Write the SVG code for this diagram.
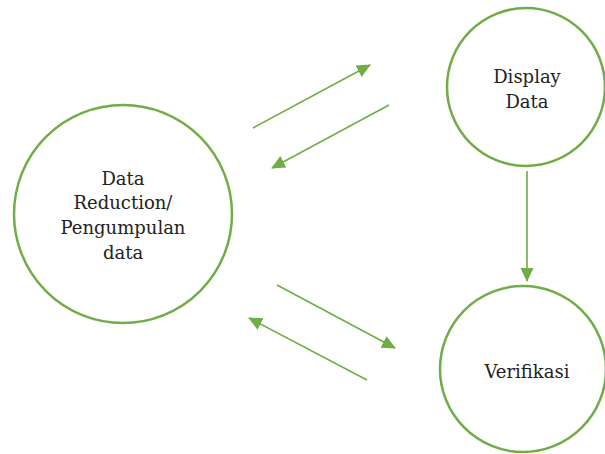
<svg xmlns="http://www.w3.org/2000/svg" width="605" height="454" viewBox="0 0 605 454">
<style>
.n{fill:#fff;stroke:#70ad47;stroke-width:2.5}
.t{font-family:"DejaVu Serif",serif;font-size:18px;fill:#222;text-anchor:middle}
.c{stroke:#70ad47;stroke-width:1.6;fill:none;marker-end:url(#ah)}
</style>
<defs>
<marker id="ah" markerWidth="14" markerHeight="14" refX="13" refY="7" orient="auto" markerUnits="userSpaceOnUse" viewBox="0 0 14 14">
<path d="M0,0.5 L14,7 L0,13.5 Z" fill="#70ad47"/>
</marker>
</defs>
<rect width="605" height="454" fill="#fff"/>
<g id="n-reduction"><circle class="n" cx="123" cy="214" r="109"/>
<text class="t" x="123" y="185">Data</text>
<text class="t" x="123" y="209">Reduction/</text>
<text class="t" x="123" y="234">Pengumpulan</text>
<text class="t" x="123" y="259">data</text></g>
<g id="n-display"><circle class="n" cx="526" cy="87" r="79"/>
<text class="t" x="527" y="83">Display</text>
<text class="t" x="527" y="108">Data</text></g>
<g id="n-verifikasi"><circle class="n" cx="523" cy="369" r="83"/>
<text class="t" x="527" y="378">Verifikasi</text></g>
<g id="connectors">
<line class="c" x1="253" y1="128" x2="370" y2="65"/>
<line class="c" x1="389" y1="105" x2="272" y2="168"/>
<line class="c" x1="277" y1="285" x2="395" y2="348"/>
<line class="c" x1="367" y1="380" x2="249" y2="318"/>
<line class="c" x1="527" y1="171" x2="527" y2="281"/>
</g>
</svg>
